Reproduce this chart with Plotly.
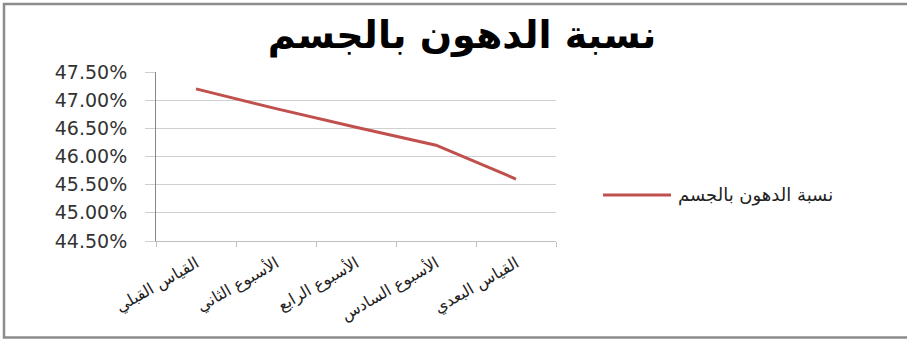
import plotly.graph_objects as go

categories = ["القياس القبلي", "الأسبوع الثاني", "الأسبوع الرابع", "الأسبوع السادس", "القياس البعدي"]
fat_ratio = [0.4720, 0.4685, 0.4652, 0.4620, 0.4560]
series_name = "نسبة الدهون بالجسم"
title_text = "نسبة الدهون بالجسم"
y_ticks = [0.445, 0.450, 0.455, 0.460, 0.465, 0.470, 0.475]
line_color = "#C0504D"

W, H = 907, 339
L, R, T, B = 156, 351, 72, 98
pw, ph = W - L - R, H - T - B

def px_x(p):
    return (p - L) / pw

def px_y(p):
    return (H - B - p) / ph

fig = go.Figure()
fig.add_trace(go.Scatter(
    x=categories, y=fat_ratio, mode="lines", name=series_name,
    line=dict(color=line_color, width=3), showlegend=False,
))

fig.update_layout(
    width=W, height=H,
    margin=dict(l=L, r=R, t=T, b=B, autoexpand=False),
    paper_bgcolor="white", plot_bgcolor="white",
    font=dict(family="DejaVu Sans", color="#333333"),
    title=dict(text="<b>" + title_text + "</b>", x=px_x(462), xref="paper", xanchor="center",
               y=1 - 35 / H, yanchor="middle", font=dict(size=38, color="#000000", family="DejaVu Sans")),
    xaxis=dict(
        type="category", tickangle=-30, tickson="boundaries",
        ticks="outside", ticklen=5, tickcolor="#BFBFBF",
        showline=True, linecolor="#BFBFBF", linewidth=1,
        showgrid=False, tickfont=dict(size=16, color="#222222"),
        ticklabelstandoff=6,
        range=[-0.5, 4.5],
    ),
    yaxis=dict(
        range=[0.445, 0.475], tickvals=y_ticks, tickformat=".2%",
        ticks="outside", ticklen=10, tickcolor="#D0D0D0",
        showline=True, linecolor="#868686", linewidth=1,
        showgrid=True, gridcolor="#D0D0D0", gridwidth=1,
        zeroline=False, tickfont=dict(size=19, color="#333333"),
        ticklabelstandoff=14,
    ),
    shapes=[
        dict(type="rect", xref="paper", yref="paper",
             x0=px_x(4), x1=px_x(912), y0=px_y(337.5), y1=px_y(4),
             line=dict(color="#8C8C8C", width=2.5), fillcolor="rgba(0,0,0,0)", layer="below"),
        dict(type="line", xref="paper", yref="paper",
             x0=px_x(603), x1=px_x(671), y0=px_y(195), y1=px_y(195),
             line=dict(color=line_color, width=3)),
    ],
    annotations=[
        dict(text=series_name, xref="paper", yref="paper", x=px_x(676), y=px_y(195),
             xanchor="left", yanchor="middle", showarrow=False,
             font=dict(size=18, color="#222222")),
    ],
)

fig.write_html("out.html", config={"displayModeBar": False},
               post_script="document.body.style.margin='0';")
